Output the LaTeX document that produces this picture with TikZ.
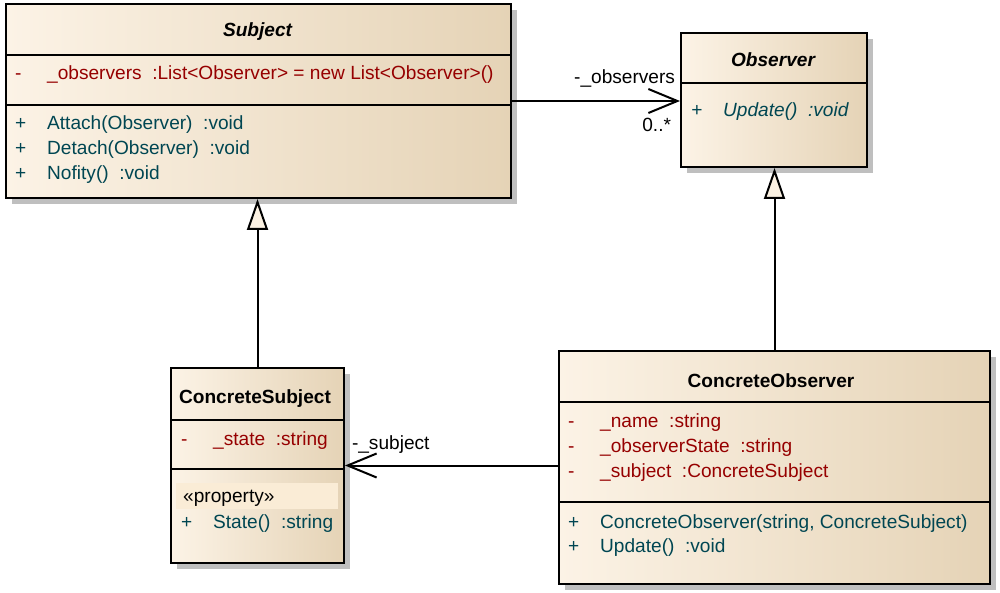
\documentclass[tikz,border=0pt]{standalone}
\usepackage{fontspec}
\setmainfont{Liberation Sans}
\usetikzlibrary{arrows.meta,positioning,shadows}

\definecolor{umlleft}{RGB}{252,243,230}
\definecolor{umlmid}{RGB}{248,236,218}
\definecolor{umlright}{RGB}{229,211,182}
\definecolor{attrred}{RGB}{150,0,0}
\definecolor{opteal}{RGB}{0,70,82}
\definecolor{propfill}{RGB}{250,236,214}
\definecolor{tricream}{RGB}{251,241,226}

\newcommand{\umlsize}{\fontsize{19.1pt}{22pt}\selectfont}
\newcommand{\mbr}[2]{\makebox[32pt][l]{#1}#2}

\tikzset{
  classbox/.style={draw, line width=2pt, left color=umlleft, middle color=umlmid, right color=umlright, anchor=north west,
    drop shadow={shadow xshift=6pt, shadow yshift=-6pt, fill=black!25, opacity=1}},
  propband/.style={fill=propfill, anchor=north west, inner sep=0pt},
  classname/.style={font=\umlsize\bfseries, anchor=base, inner sep=0pt},
  attr/.style={text=attrred, anchor=base west, inner sep=0pt},
  oper/.style={text=opteal, anchor=base west, inner sep=0pt},
  stereo/.style={anchor=base west, inner sep=0pt},
  divider/.style={line width=2pt},
  assoc/.style={-{Straight Barb[length=29pt, width=24pt]}, line width=2pt},
  inherit/.style={-{Triangle[length=31pt, width=21pt, fill=tricream]}, line width=2pt},
  rolelabel/.style={inner sep=0pt},
}

\begin{document}
\begin{tikzpicture}[x=1pt, y=-1pt, font=\umlsize]
  \useasboundingbox (0,0) rectangle (1000,593);

  % class boxes
  \node[classbox, minimum width=505pt, minimum height=194pt] (subject) at (5,3) {};
  \node[classbox, minimum width=186pt, minimum height=134pt] (observer) at (680,32) {};
  \node[classbox, minimum width=173pt, minimum height=195pt] (csubject) at (170,367) {};
  \node[classbox, minimum width=431pt, minimum height=233pt] (cobserver) at (558,350) {};

  % compartments
  \draw[divider] (subject.west |- 0,55) -- (subject.east |- 0,55);
  \draw[divider] (subject.west |- 0,105) -- (subject.east |- 0,105);
  \draw[divider] (observer.west |- 0,83) -- (observer.east |- 0,83);
  \draw[divider] (csubject.west |- 0,420) -- (csubject.east |- 0,420);
  \draw[divider] (csubject.west |- 0,469) -- (csubject.east |- 0,469);
  \draw[divider] (cobserver.west |- 0,402) -- (cobserver.east |- 0,402);
  \draw[divider] (cobserver.west |- 0,502) -- (cobserver.east |- 0,502);
  \node[propband, minimum width=162pt, minimum height=26pt] (stereoband) at (176,483) {};

  % Subject
  \node[classname, font=\umlsize\bfseries\itshape] (subjectname) at (257.5,37) {Subject};
  \node[attr] (subjectobs) at (15,80) {\mbr{-}{\_observers~~:List<Observer> = new List<Observer>()}};
  \node[oper] (subjectattach) at (15,130) {\mbr{+}{Attach(Observer)~~:void}};
  \node[oper] (subjectdetach) at (15,155) {\mbr{+}{Detach(Observer)~~:void}};
  \node[oper] (subjectnotify) at (15,180) {\mbr{+}{Nofity()~~:void}};

  % Observer
  \node[classname, font=\umlsize\bfseries\itshape] (observername) at (773,67) {Observer};
  \node[oper, font=\umlsize\itshape] (observerupdate) at (691,117) {\mbr{+}{Update()~~:void}};

  % ConcreteSubject
  \node[classname] (csubjectname) at (255,403) {ConcreteSubject};
  \node[attr] (csubjectstate) at (181,445) {\mbr{-}{\_state~~:string}};
  \node[stereo] (csubjectstereo) at (183,502) {«property»};
  \node[oper] (csubjectprop) at (181,528) {\mbr{+}{State()~~:string}};

  % ConcreteObserver
  \node[classname] (cobservername) at (771,387) {ConcreteObserver};
  \node[attr] (cobservername2) at (568,427) {\mbr{-}{\_name~~:string}};
  \node[attr] (cobserverstate) at (568,452) {\mbr{-}{\_observerState~~:string}};
  \node[attr] (cobserversubj) at (568,477) {\mbr{-}{\_subject~~:ConcreteSubject}};
  \node[oper] (cobserverctor) at (568,528) {\mbr{+}{ConcreteObserver(string, ConcreteSubject)}};
  \node[oper] (cobserverupdate) at (568,552) {\mbr{+}{Update()~~:void}};

  % relations
  \draw[assoc] (subject.east) -- (subject.east -| observer.west)
    node[rolelabel, pos=1, anchor=base east, xshift=-4pt, yshift=17pt] {-\_observers}
    node[rolelabel, pos=1, anchor=base east, xshift=-8pt, yshift=-30.5pt] {0..*};
  \draw[inherit] (csubject.north) -- (csubject.north |- subject.south);
  \draw[inherit] (cobserver.north) -- (cobserver.north |- observer.south);
  \draw[assoc] (cobserver.west |- csubject.east) -- (csubject.east)
    node[rolelabel, pos=1, anchor=base west, xshift=6pt, yshift=16pt] {-\_subject};
\end{tikzpicture}
\end{document}
